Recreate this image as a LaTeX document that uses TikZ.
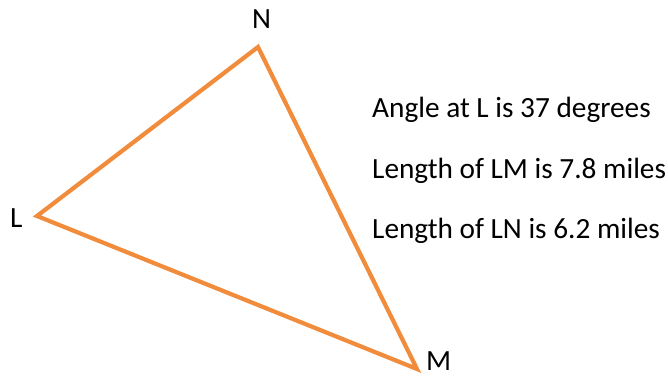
\documentclass[tikz,border=0pt]{standalone}
\usepackage{fontspec}
\setmainfont{Carlito}
\definecolor{tri}{RGB}{240,140,60}
\begin{document}
\begin{tikzpicture}[x=1pt,y=-1pt,
  lbl/.style={inner sep=0pt,anchor=base west,font=\fontsize{29.3}{34}\selectfont},
  edge/.style={draw=tri,line width=4.2pt,line join=miter}]
\useasboundingbox (0,0) rectangle (668,375);
\coordinate (L) at (37,216);
\coordinate (N) at (258,47);
\coordinate (M) at (417,369);
\draw[edge] (L) -- (N) -- (M) -- cycle;
\node[lbl] (tL) at (10,227) {L};
\node[lbl] (tN) at (252,28) {N};
\node[lbl] (tM) at (426,370) {M};
\node[lbl] (t1) at (372,117) {Angle at L is 37 degrees};
\node[lbl] (t2) at (372,178) {Length of LM is 7.8 miles};
\node[lbl] (t3) at (372,238) {Length of LN is 6.2 miles};
\end{tikzpicture}
\end{document}
